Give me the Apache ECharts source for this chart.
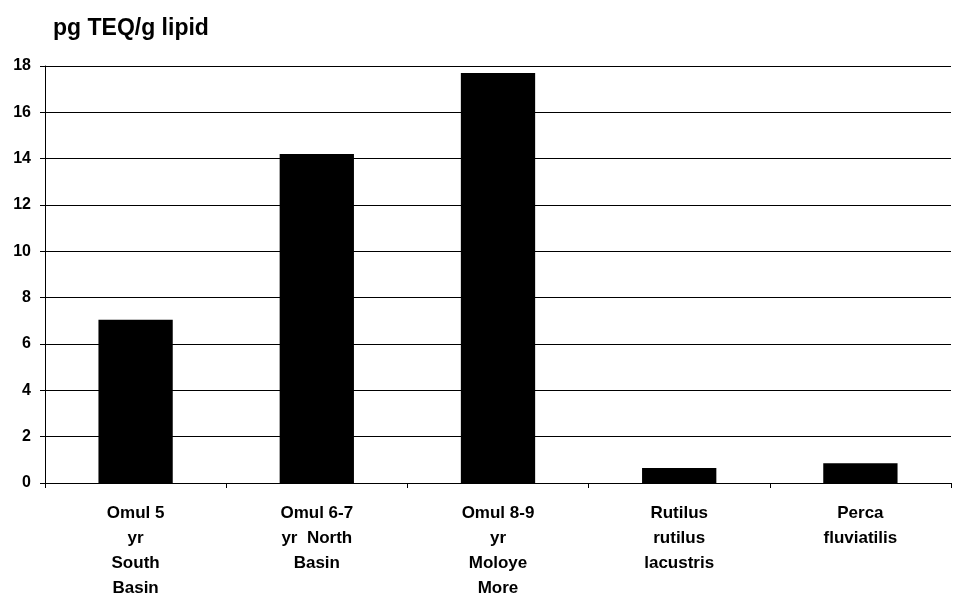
<!DOCTYPE html>
<html>
<head>
<meta charset="utf-8">
<script src="https://cdn.jsdelivr.net/npm/echarts@6/dist/echarts.min.js"></script>
<style>
  html, body { margin: 0; padding: 0; background: #fff; }
  #chart { width: 953px; height: 598px; }
</style>
</head>
<body>
<div id="chart"></div>
<script>
const categories = [
  "Omul 5\nyr\nSouth\nBasin",
  "Omul 6-7\nyr  North\nBasin",
  "Omul 8-9\nyr\nMoloye\nMore",
  "Rutilus\nrutilus\nlacustris",
  "Perca\nfluviatilis"
];
const values = [7.05, 14.2, 17.7, 0.65, 0.85];
const yTicks = [0, 2, 4, 6, 8, 10, 12, 14, 16, 18];
const yTitle = "pg TEQ/g lipid";

const FONT = "'Liberation Sans', Arial, sans-serif";
const chart = echarts.init(document.getElementById('chart'), null, { renderer: 'canvas' });
chart.setOption({
  animation: false,
  backgroundColor: '#ffffff',
  title: {
    text: yTitle,
    left: 48,
    top: 12,
    textStyle: { fontFamily: FONT, fontWeight: 'bold', fontSize: 23, color: '#000' }
  },
  grid: { left: 45, right: 2, top: 66, bottom: 115, containLabel: false, outerBoundsMode: 'none' },
  xAxis: {
    type: 'category',
    data: categories,
    axisLine: { show: true, lineStyle: { color: '#000', width: 1 } },
    axisTick: { show: true, length: 5, alignWithLabel: false, lineStyle: { color: '#000' } },
    axisLabel: {
      interval: 0,
      margin: 18,
      fontFamily: FONT,
      fontWeight: 'bold',
      fontSize: 17,
      lineHeight: 25,
      color: '#000',
      align: 'center'
    },
    splitLine: { show: false }
  },
  yAxis: {
    type: 'value',
    min: yTicks[0],
    max: yTicks[yTicks.length - 1],
    interval: 2,
    axisLine: { show: true, lineStyle: { color: '#000', width: 1 } },
    axisTick: { show: true, length: 5, inside: false, lineStyle: { color: '#000' } },
    axisLabel: {
      margin: 14,
      fontFamily: FONT,
      fontWeight: 'bold',
      fontSize: 16,
      color: '#000'
    },
    splitLine: { show: true, lineStyle: { color: '#000', width: 1 } }
  },
  series: [{
    type: 'bar',
    data: values,
    barWidth: '41%',
    itemStyle: { color: '#000' }
  }]
});
</script>
</body>
</html>
